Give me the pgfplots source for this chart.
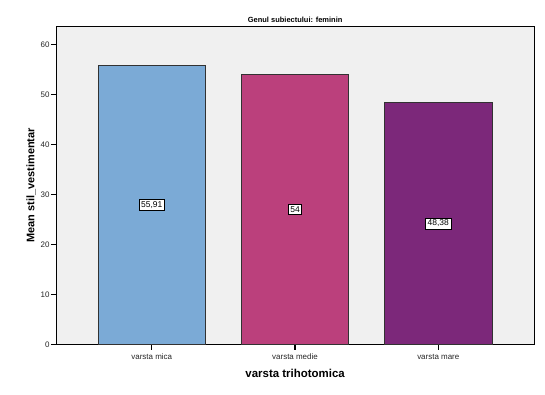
\documentclass[border=0pt]{standalone}
\usepackage{pgfplots}
\pgfplotsset{compat=1.18}
\usepackage{fontspec}
\setmainfont{Liberation Sans}
\definecolor{bgc}{RGB}{240,240,240}
\definecolor{cA}{RGB}{123,170,214}
\definecolor{cB}{RGB}{187,64,124}
\definecolor{cC}{RGB}{124,40,122}
\definecolor{edge}{RGB}{50,50,50}
\begin{document}
\begin{tikzpicture}[x=1bp,y=1bp]
\begin{axis}[
  scale only axis,
  width=478.3bp, height=318.5bp,
  xmin=-0.668, xmax=2.67,
  ymin=0, ymax=63.7,
  axis background/.style={fill=bgc},
  axis line style={black, line width=0.9bp},
  xtick={0,1,2},
  xticklabels={varsta mica, varsta medie, varsta mare},
  ytick={0,10,20,30,40,50,60},
  tick align=outside,
  xtick pos=bottom, ytick pos=left,
  major tick length=5bp,
  every tick/.style={black, line width=1.1bp},
  tick label style={font=\fontsize{8}{9}\selectfont, text=black!85},
  yticklabel style={xshift=2bp},
  /pgf/number format/assume math mode=true,
  xticklabel style={yshift=-1bp},
  ylabel={\bfseries Mean stil\_vestimentar},
  ylabel style={font=\fontsize{11}{12}\selectfont, yshift=-2bp},
  xlabel={\bfseries varsta trihotomica},
  xlabel style={font=\fontsize{11.5}{13}\selectfont, yshift=-2bp},
  title={\bfseries Genul subiectului: feminin},
  title style={font=\fontsize{7.5}{8}\selectfont, yshift=-6bp},
  ybar, bar width=0.75, bar shift=0pt,
  clip=false,
]
\addplot[fill=cA, draw=edge, line width=0.7bp] coordinates {(0,55.91)};
\addplot[fill=cB, draw=edge, line width=0.7bp] coordinates {(1,54)};
\addplot[fill=cC, draw=edge, line width=0.7bp] coordinates {(2,48.38)};
\addplot[draw=none, mark=none, nodes near coords, point meta=explicit symbolic,
  nodes near coords align={center},
  every node near coord/.append style={fill=white, draw=black, line width=0.7bp, inner sep=2bp, font=\fontsize{8.5}{9}\selectfont, anchor=center}]
  coordinates {(0,27.955)[55,91] (1,27)[54] (2,24.19)[48,38]};
\path[use as bounding box] ([xshift=-56bp,yshift=-50.5bp]current axis.south west) rectangle ([xshift=10.7bp,yshift=26bp]current axis.north east);
\end{axis}
\end{tikzpicture}
\end{document}
